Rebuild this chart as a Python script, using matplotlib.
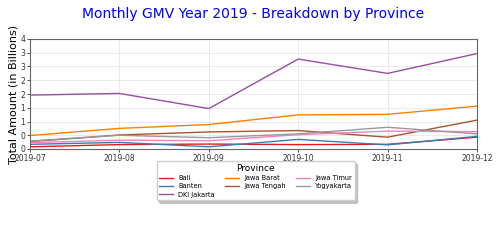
import matplotlib
matplotlib.use('Agg')
import matplotlib.pyplot as plt
from matplotlib.ticker import FuncFormatter, MultipleLocator

months = ['2019-07', '2019-08', '2019-09', '2019-10', '2019-11', '2019-12']
provinces = ['Bali', 'Banten', 'DKI Jakarta', 'Jawa Barat', 'Jawa Tengah', 'Jawa Timur', 'Yogyakarta']

bali = [0.08, 0.16, 0.18, 0.16, 0.17, 0.43]
banten = [0.17, 0.24, 0.08, 0.35, 0.15, 0.46]
dki_jakarta = [1.96, 2.02, 1.47, 3.27, 2.75, 3.47]
jawa_barat = [0.49, 0.75, 0.89, 1.24, 1.26, 1.56]
jawa_tengah = [0.27, 0.51, 0.62, 0.67, 0.43, 1.05]
jawa_timur = [0.23, 0.32, 0.30, 0.52, 0.65, 0.63]
yogyakarta = [0.29, 0.50, 0.41, 0.55, 0.79, 0.55]

series = [bali, banten, dki_jakarta, jawa_barat, jawa_tengah, jawa_timur, yogyakarta]

# Set1 sampled for 7 lines
cmap = plt.get_cmap('Set1')
colors = [cmap(i / 6) for i in range(7)]

fig = plt.figure(figsize=(5, 2.5), dpi=100)
ax = fig.add_axes([0.06, 0.404, 0.894, 0.44])

x = list(range(len(months)))
for name, vals, c in zip(provinces, series, colors):
    ax.plot(x, vals, color=c, linewidth=1, label=name)

ax.set_xlim(0, len(months) - 1)
ax.set_ylim(0, 4)
ax.set_xticks(x)
ax.set_xticklabels(months)
ax.yaxis.set_major_locator(MultipleLocator(0.5))
ax.yaxis.set_major_formatter(FuncFormatter(lambda v, p: '%d' % int(v)))
ax.tick_params(labelsize=5.5, length=2, width=0.6, colors='#333333', pad=1.5)
ax.grid(True, color='#e6e6e6', linewidth=0.6)
for s in ax.spines.values():
    s.set_color('#666666')
    s.set_linewidth(0.8)

ax.set_title('Monthly GMV Year 2019 - Breakdown by Province', color='blue', fontsize=10, pad=15)
ax.set_ylabel('Total Amount (in Billions)', fontsize=8, labelpad=1)

leg = ax.legend(title='Province', loc='upper center', bbox_to_anchor=(0.505, -0.08), ncol=3,
                fontsize=4.8, title_fontsize=6.5, fancybox=True,
                shadow={'color': '#b8b8b8', 'alpha': 0.8},
                handlelength=2.0, columnspacing=1.6, borderpad=0.4, labelspacing=0.35)

fig.savefig('out.png', dpi=100)
